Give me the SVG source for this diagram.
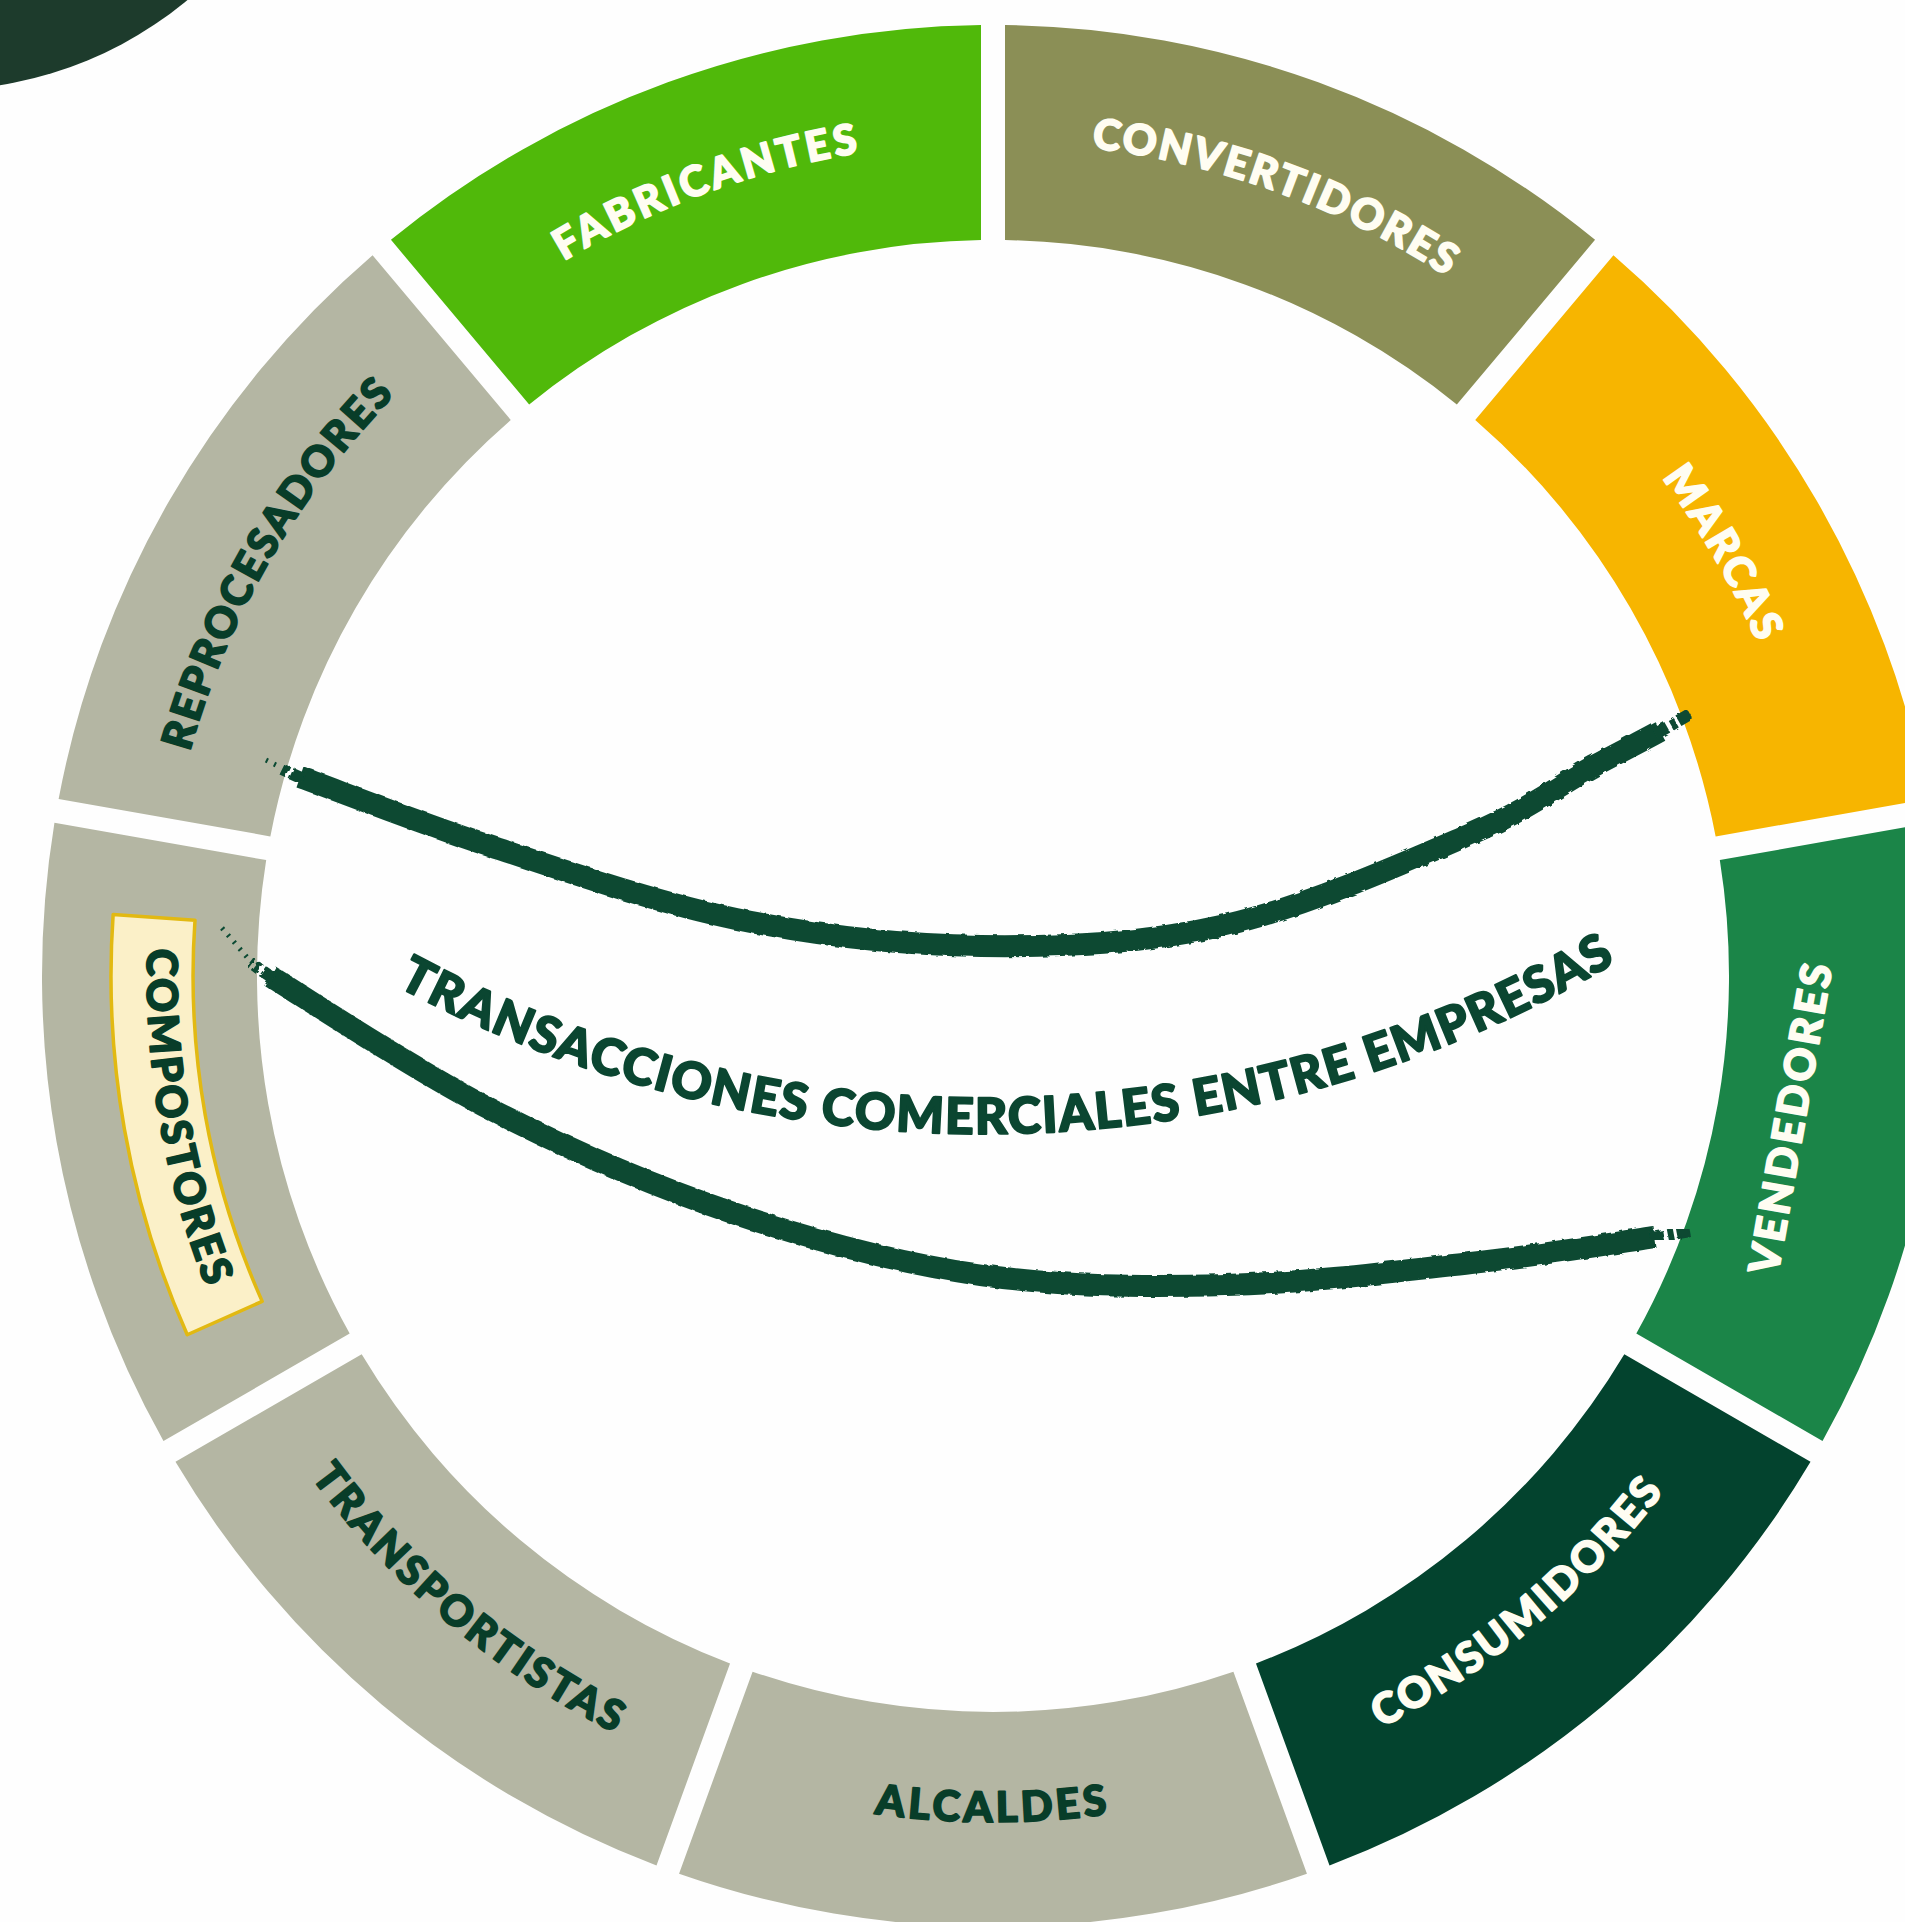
<svg xmlns="http://www.w3.org/2000/svg" width="1905" height="1922" viewBox="0 0 1905 1922">
<defs>
<style>
.lbl{font-family:Lato,"Open Sans","Liberation Sans",sans-serif;font-weight:900;font-size:42px;letter-spacing:4px;text-anchor:middle;stroke-width:1.8px;stroke-linejoin:round}
.light{fill:#fffdf2;stroke:#fffdf2}
.dark{fill:#083d29;stroke:#083d29}
.title{font-family:Lato,"Open Sans","Liberation Sans",sans-serif;font-weight:900;font-size:50px;fill:#0b4631;stroke:#0b4631;stroke-width:2px;stroke-linejoin:round;letter-spacing:1px}
.brush{fill:none;stroke:#0b4a33;stroke-width:22;stroke-linecap:butt;filter:url(#rough)}
.brush-end{fill:none;stroke:#0b4a33;stroke-width:12;stroke-linecap:butt;stroke-dasharray:14 4 6 3;filter:url(#rough)}
.dots{fill:none;stroke:#0b4a33;stroke-width:5;stroke-dasharray:2 7}
</style>
<path id="seg" d="M 897.68 -313.96 A 951 951 0 0 1 897.68 313.96 L 695.63 240.42 A 736 736 0 0 0 695.63 -240.42 Z"/>
<path id="arcTop" d="M 788.6 -271.5 A 834 834 0 0 1 788.6 271.5"/>
<path id="arcBot" d="M 799.9 275.4 A 846 846 0 0 0 799.9 -275.4"/>
<path id="arcTitle" d="M 397 986 A 1244 1244 0 0 0 1616.5 962"/>
<filter id="rough" x="-5%" y="-20%" width="110%" height="140%">
<feTurbulence type="fractalNoise" baseFrequency="0.12" numOctaves="2" seed="3"/>
<feDisplacementMap in="SourceGraphic" scale="4"/>
</filter>
</defs>
<rect width="1905" height="1922" fill="#fefefe"/>
<g id="corner-circle"><circle cx="-61" cy="-298" r="388" fill="#1d3b2c"/></g>
<g id="ring">
<g id="node-convertidores" transform="translate(993 976) rotate(-70)">
<use href="#seg" fill="#8b8f56"/>
<text class="lbl light"><textPath href="#arcTop" startOffset="50%" textLength="385">CONVERTIDORES</textPath></text>
</g>
<g id="node-marcas" transform="translate(993 976) rotate(-30)">
<use href="#seg" fill="#f7b500"/>
<text class="lbl light"><textPath href="#arcTop" startOffset="50%" textLength="195">MARCAS</textPath></text>
</g>
<g id="node-vendedores" transform="translate(993 976) rotate(10)">
<use href="#seg" fill="#1b8548"/>
<text class="lbl light" transform="translate(825 0) rotate(-90)" textLength="318">VENDEDORES</text>
</g>
<g id="node-consumidores" transform="translate(993 976) rotate(50)">
<use href="#seg" fill="#03432e"/>
<text class="lbl light"><textPath href="#arcBot" startOffset="50%" textLength="375">CONSUMIDORES</textPath></text>
</g>
<g id="node-alcaldes" transform="translate(993 976) rotate(90)">
<use href="#seg" fill="#b4b6a3"/>
<text class="lbl dark"><textPath href="#arcBot" startOffset="50%" textLength="238">ALCALDES</textPath></text>
</g>
<g id="node-transportistas" transform="translate(993 976) rotate(130)">
<use href="#seg" fill="#b4b6a3"/>
<text class="lbl dark"><textPath href="#arcBot" startOffset="50%" textLength="405">TRANSPORTISTAS</textPath></text>
</g>
<g id="node-compostores" transform="translate(993 976) rotate(170)">
<use href="#seg" fill="#b4b6a3"/>
<path d="M 855.8 -213.4 A 882 882 0 0 1 855.8 213.4 L 776.2 193.5 A 800 800 0 0 0 776.2 -193.5 Z" fill="#fbf0c8" stroke="#e2b912" stroke-width="3.5" stroke-linejoin="round"/>
<text class="lbl dark"><textPath href="#arcBot" startOffset="50%" textLength="350">COMPOSTORES</textPath></text>
</g>
<g id="node-reprocesadores" transform="translate(993 976) rotate(210)">
<use href="#seg" fill="#b4b6a3"/>
<text class="lbl dark"><textPath href="#arcTop" startOffset="50%" textLength="420">REPROCESADORES</textPath></text>
</g>
<g id="node-fabricantes" transform="translate(993 976) rotate(250)">
<use href="#seg" fill="#50b90a"/>
<text class="lbl light"><textPath href="#arcTop" startOffset="50%" textLength="320">FABRICANTES</textPath></text>
</g>
</g>
<g id="connectors">
<path class="brush" d="M 300 777 C 321.7 784.3 415.3 821.5 490 846 C 564.7 870.5 654.2 902.3 736 919 C 817.8 935.7 899.3 945 981 946 C 1062.7 947 1144.3 943.7 1226 925 C 1307.7 906.3 1409.7 860.5 1471 834 C 1532.3 807.5 1558.2 785.5 1594 766 C 1620 752 1640 742 1660 731"/>
<path class="brush-end" d="M 1655 734 C 1668 727 1678 721 1690 714"/>
<path class="brush-end" d="M 304 779 C 296 776 288 772 280 768"/>
<path class="brush" d="M 270 976 C 295.8 991.5 410.2 1068 490 1109 C 569.8 1150 654.2 1186.3 736 1214 C 817.8 1241.7 899.3 1263.2 981 1275 C 1062.7 1286.8 1144.3 1287 1226 1285 C 1307.7 1283 1394.3 1271.8 1471 1263 C 1547.7 1254.2 1620 1242 1655 1237"/>
<path class="brush-end" d="M 1650 1238 C 1665 1236 1678 1233 1690 1231"/>
<path class="brush-end" d="M 274 979 C 266 974 258 968 250 962"/>
<path class="dots" d="M 222 928 L 252 963"/>
<path class="dots" d="M 266 760 L 282 768"/>
</g>
<g id="title-label">
<text class="title"><textPath href="#arcTitle" startOffset="0" textLength="1275">TRANSACCIONES COMERCIALES ENTRE EMPRESAS</textPath></text>
</g>
</svg>
